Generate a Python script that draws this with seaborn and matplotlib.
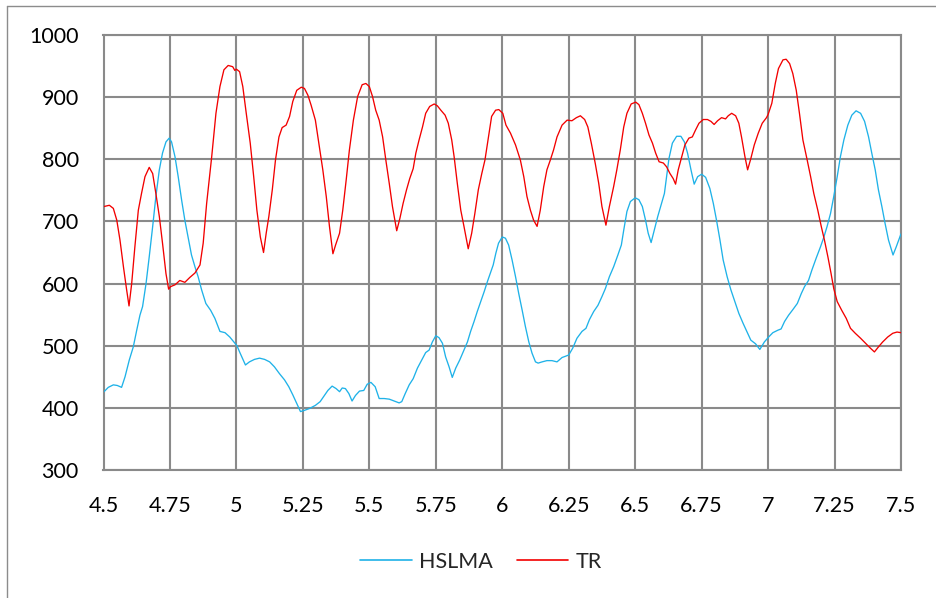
import matplotlib
matplotlib.use("Agg")
import matplotlib.pyplot as plt
from matplotlib.lines import Line2D
import seaborn as sns
import pandas as pd

# ---------------- data ----------------
tr_x = [4.502, 4.522, 4.537, 4.55, 4.562, 4.575, 4.587, 4.596, 4.606, 4.618, 4.631, 4.643, 4.656, 4.672,
        4.685, 4.697, 4.71, 4.722, 4.735, 4.745, 4.752, 4.769, 4.787, 4.806, 4.825, 4.844, 4.863, 4.875,
        4.888, 4.907, 4.923, 4.938, 4.953, 4.969, 4.986, 4.994, 5.0, 5.012, 5.024, 5.037, 5.052, 5.065,
        5.077, 5.09, 5.102, 5.112, 5.122, 5.135, 5.147, 5.16, 5.172, 5.187, 5.2, 5.212, 5.227, 5.244,
        5.256, 5.269, 5.281, 5.297, 5.312, 5.325, 5.338, 5.35, 5.363, 5.373, 5.388, 5.4, 5.413, 5.425,
        5.44, 5.456, 5.473, 5.487, 5.5, 5.512, 5.524, 5.537, 5.55, 5.562, 5.575, 5.587, 5.603, 5.615,
        5.627, 5.64, 5.652, 5.665, 5.675, 5.687, 5.7, 5.712, 5.727, 5.744, 5.756, 5.769, 5.785, 5.797,
        5.81, 5.819, 5.831, 5.844, 5.856, 5.872, 5.885, 5.897, 5.91, 5.923, 5.935, 5.948, 5.96, 5.975,
        5.987, 6.002, 6.014, 6.031, 6.05, 6.068, 6.081, 6.093, 6.106, 6.118, 6.131, 6.143, 6.156, 6.168,
        6.181, 6.193, 6.206, 6.225, 6.244, 6.262, 6.279, 6.294, 6.31, 6.322, 6.335, 6.35, 6.363, 6.375,
        6.39, 6.403, 6.419, 6.431, 6.444, 6.457, 6.469, 6.485, 6.502, 6.514, 6.527, 6.539, 6.552, 6.565,
        6.577, 6.59, 6.606, 6.618, 6.631, 6.643, 6.652, 6.662, 6.675, 6.687, 6.702, 6.715, 6.727, 6.74,
        6.756, 6.772, 6.785, 6.797, 6.81, 6.825, 6.84, 6.85, 6.863, 6.878, 6.89, 6.9, 6.913, 6.923,
        6.935, 6.948, 6.963, 6.978, 6.994, 7.0, 7.014, 7.027, 7.039, 7.056, 7.068, 7.081, 7.093, 7.106,
        7.118, 7.131, 7.147, 7.16, 7.172, 7.187, 7.2, 7.212, 7.225, 7.237, 7.247, 7.26, 7.277, 7.294,
        7.31, 7.328, 7.348, 7.369, 7.385, 7.4, 7.415, 7.431, 7.45, 7.469, 7.485, 7.5]
tr_y = [724, 726, 721, 702, 670, 627, 590, 564, 600, 659, 718, 745, 772, 787,
        777, 745, 708, 665, 616, 591, 595, 598, 605, 602, 610, 617, 630, 665,
        729, 804, 874, 917, 944, 951, 949, 943, 945, 941, 917, 874, 826, 772,
        718, 675, 650, 681, 708, 751, 799, 836, 851, 855, 869, 893, 911, 916,
        914, 903, 887, 863, 820, 783, 740, 692, 648, 662, 681, 718, 767, 815,
        863, 901, 920, 922, 917, 901, 879, 863, 836, 799, 761, 724, 685, 705,
        729, 751, 769, 785, 810, 831, 852, 874, 885, 889, 886, 879, 871, 858,
        831, 804, 761, 718, 692, 656, 681, 713, 751, 777, 799, 836, 869, 879,
        880, 874, 855, 842, 823, 799, 772, 740, 718, 702, 692, 718, 756, 783,
        799, 815, 836, 855, 863, 862, 867, 870, 864, 852, 826, 793, 761, 724,
        694, 724, 756, 783, 815, 852, 874, 889, 892, 888, 874, 858, 839, 826,
        810, 796, 794, 788, 777, 769, 760, 783, 804, 823, 834, 836, 847, 858,
        864, 864, 861, 856, 862, 867, 865, 870, 874, 870, 858, 836, 804, 783,
        801, 823, 842, 858, 867, 872, 890, 922, 946, 960, 961, 954, 938, 911,
        874, 831, 799, 772, 745, 718, 692, 670, 643, 616, 592, 571, 557, 544,
        528, 520, 512, 503, 496, 490, 498, 506, 514, 520, 522, 521]

hslma_x = [4.502, 4.518, 4.537, 4.552, 4.568, 4.581, 4.597, 4.612, 4.625, 4.637, 4.647, 4.66, 4.672, 4.685,
           4.697, 4.71, 4.722, 4.735, 4.747, 4.756, 4.769, 4.781, 4.794, 4.806, 4.819, 4.831, 4.844, 4.856,
           4.869, 4.885, 4.903, 4.919, 4.938, 4.957, 4.975, 4.994, 5.002, 5.014, 5.034, 5.049, 5.068, 5.087,
           5.106, 5.125, 5.143, 5.162, 5.181, 5.197, 5.212, 5.227, 5.241, 5.256, 5.275, 5.297, 5.315, 5.328,
           5.344, 5.36, 5.375, 5.388, 5.398, 5.41, 5.423, 5.435, 5.448, 5.463, 5.479, 5.492, 5.506, 5.522,
           5.537, 5.556, 5.575, 5.593, 5.612, 5.622, 5.635, 5.65, 5.665, 5.681, 5.697, 5.712, 5.725, 5.737,
           5.75, 5.762, 5.775, 5.787, 5.8, 5.812, 5.825, 5.84, 5.856, 5.869, 5.881, 5.894, 5.906, 5.919,
           5.932, 5.944, 5.957, 5.966, 5.976, 5.986, 6.0, 6.012, 6.024, 6.037, 6.05, 6.062, 6.075, 6.087,
           6.1, 6.112, 6.125, 6.135, 6.15, 6.168, 6.187, 6.206, 6.225, 6.25, 6.265, 6.281, 6.3, 6.315,
           6.328, 6.344, 6.36, 6.375, 6.388, 6.403, 6.419, 6.435, 6.448, 6.457, 6.469, 6.482, 6.5, 6.514,
           6.527, 6.539, 6.549, 6.56, 6.572, 6.585, 6.597, 6.61, 6.618, 6.627, 6.64, 6.656, 6.672, 6.685,
           6.697, 6.71, 6.722, 6.735, 6.75, 6.765, 6.781, 6.794, 6.806, 6.819, 6.831, 6.846, 6.86, 6.875,
           6.89, 6.906, 6.923, 6.935, 6.953, 6.969, 6.986, 7.002, 7.018, 7.037, 7.049, 7.062, 7.077, 7.093,
           7.11, 7.125, 7.137, 7.152, 7.165, 7.181, 7.197, 7.21, 7.222, 7.235, 7.247, 7.26, 7.272, 7.285,
           7.3, 7.315, 7.331, 7.348, 7.363, 7.378, 7.39, 7.403, 7.415, 7.428, 7.44, 7.453, 7.47, 7.482, 7.5]
hslma_y = [426, 433, 437, 436, 433, 450, 477, 498, 525, 549, 563, 600, 643, 692,
           740, 783, 810, 828, 834, 828, 804, 772, 734, 702, 673, 646, 627, 611,
           590, 568, 557, 544, 523, 521, 514, 504, 500, 488, 469, 474, 478, 480,
           478, 474, 466, 455, 445, 434, 421, 407, 394, 396, 399, 404, 410, 418,
           428, 435, 431, 426, 432, 431, 423, 411, 420, 427, 428, 438, 441, 434,
           415, 415, 414, 411, 408, 410, 423, 437, 447, 464, 477, 489, 493, 506,
           516, 513, 504, 482, 466, 449, 464, 477, 493, 506, 523, 539, 555, 571,
           587, 603, 619, 630, 649, 665, 675, 673, 662, 638, 611, 584, 557, 531,
           506, 488, 474, 472, 474, 476, 476, 474, 481, 485, 496, 512, 523, 528,
           542, 555, 565, 579, 592, 611, 627, 646, 662, 686, 716, 732, 738, 735,
           724, 702, 681, 666, 686, 708, 726, 745, 772, 801, 826, 837, 837, 828,
           810, 783, 760, 772, 776, 771, 753, 729, 702, 670, 638, 611, 590, 571,
           552, 536, 520, 509, 503, 494, 506, 514, 521, 525, 527, 539, 549, 558,
           568, 584, 595, 605, 622, 641, 659, 675, 692, 713, 740, 772, 804, 831,
           855, 871, 878, 874, 861, 836, 810, 783, 751, 724, 697, 670, 646, 659, 680]

x_ticks = [4.5, 4.75, 5.0, 5.25, 5.5, 5.75, 6.0, 6.25, 6.5, 6.75, 7.0, 7.25, 7.5]
x_tick_labels = ["4.5", "4.75", "5", "5.25", "5.5", "5.75", "6", "6.25", "6.5", "6.75", "7", "7.25", "7.5"]
y_ticks = [300, 400, 500, 600, 700, 800, 900, 1000]
y_tick_labels = ["300", "400", "500", "600", "700", "800", "900", "1000"]
series_names = ["HSLMA", "TR"]

# ---------------- style ----------------
sns.set_style("white")
plt.rcParams["font.family"] = ["Lato", "DejaVu Sans"]

BLUE = "#1FB2E8"
RED = "#F20000"
GRID = "#8A8A8A"
FS = 15.5

W, H = 936, 598
fig = plt.figure(figsize=(W / 100, H / 100), dpi=100)
ax = fig.add_axes([103.5 / W, 1 - 470 / H, (901 - 103.5) / W, (470 - 35) / H])

df_h = pd.DataFrame({"x": hslma_x, "y": hslma_y})
df_t = pd.DataFrame({"x": tr_x, "y": tr_y})
sns.lineplot(data=df_h, x="x", y="y", ax=ax, color=BLUE, linewidth=0.95,
             estimator=None, sort=False, zorder=3)
sns.lineplot(data=df_t, x="x", y="y", ax=ax, color=RED, linewidth=0.95,
             estimator=None, sort=False, zorder=4)

ax.set_xlim(4.5, 7.5)
ax.set_ylim(300, 1000)
ax.set_xticks(x_ticks)
ax.set_xticklabels(x_tick_labels)
ax.set_yticks(y_ticks)
ax.set_yticklabels(y_tick_labels)
ax.set_xlabel("")
ax.set_ylabel("")

ax.grid(True, color=GRID, linewidth=1.5, zorder=1)
ax.set_axisbelow(True)
for s in ax.spines.values():
    s.set_color(GRID)
    s.set_linewidth(1.5)

ax.tick_params(axis="both", direction="out", length=5.8, width=1.5, color=GRID,
               labelsize=FS, labelcolor="black")
ax.tick_params(axis="y", pad=12)
ax.tick_params(axis="x", pad=13)

handles = [Line2D([], [], color=BLUE, linewidth=1.2),
           Line2D([], [], color=RED, linewidth=1.2)]
fig.legend(handles, series_names, loc="center", bbox_to_anchor=(481 / W, 1 - 562 / H),
           ncol=2, frameon=False, fontsize=FS, handlelength=2.4, handletextpad=0.35,
           columnspacing=1.1)

# outer chart frame (top and left edges visible)
fig.add_artist(Line2D([7 / W, 1.0], [1 - 5.5 / H, 1 - 5.5 / H], transform=fig.transFigure,
                      color="#8C8C8C", linewidth=1.0))
fig.add_artist(Line2D([7 / W, 7 / W], [0, 1 - 5.5 / H], transform=fig.transFigure,
                      color="#8C8C8C", linewidth=1.0))

fig.savefig("out.png", dpi=100)
